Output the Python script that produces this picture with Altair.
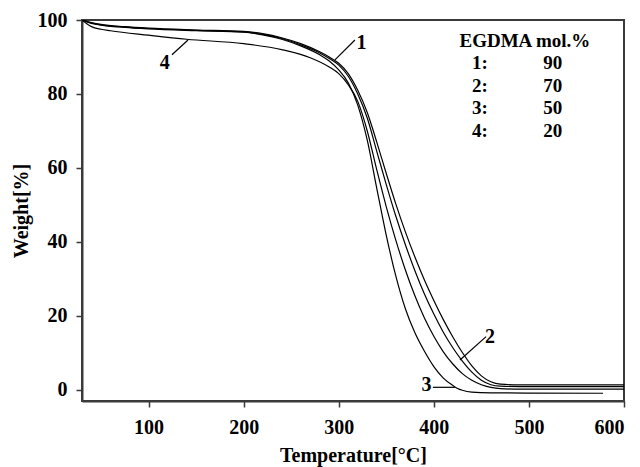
import altair as alt
import pandas as pd

# ---- data ----
series_names = ["1", "2", "3", "4"]

t1 = [30, 40, 50, 75, 100, 150, 200, 220, 240, 260, 280, 290, 300, 310, 320, 330, 340, 350,
      360, 370, 380, 390, 400, 410, 420, 430, 440, 450, 460, 470, 490, 600]
w1 = [100, 99.3, 98.8, 98.2, 97.8, 97.3, 96.9, 96.3, 95.2, 93.6, 91.4, 90.0, 88.3, 85.5, 81.0,
      75.0, 67.0, 58.5, 50.3, 42.8, 36.0, 29.8, 24.2, 19.0, 14.3, 10.1, 6.5, 3.8, 2.2, 1.55, 1.35, 1.35]

t2 = [30, 40, 50, 75, 100, 150, 200, 220, 240, 260, 280, 290, 300, 310, 320, 330, 340, 350,
      360, 370, 380, 390, 400, 410, 420, 430, 440, 450, 460, 470, 490, 600]
w2 = [100, 99.2, 98.7, 98.1, 97.7, 97.2, 96.8, 96.1, 95.0, 93.3, 91.1, 89.6, 87.8, 84.8, 80.0,
      73.5, 64.5, 55.5, 47.0, 39.3, 32.3, 26.0, 20.5, 15.6, 11.4, 7.8, 4.8, 2.6, 1.4, 1.0, 0.9, 0.9]

t3 = [30, 40, 50, 75, 100, 150, 200, 220, 240, 260, 280, 290, 300, 310, 320, 330, 340, 350,
      360, 370, 380, 390, 400, 410, 420, 425, 430, 440, 460, 500, 578]
w3 = [100, 99.1, 98.6, 98.0, 97.6, 97.1, 96.7, 96.0, 94.8, 93.0, 90.6, 88.9, 86.5, 83.0, 77.0,
      67.5, 54.5, 41.8, 30.8, 22.0, 15.5, 10.5, 6.3, 3.2, 1.2, 0.4, -0.1, -0.6, -0.8, -0.85, -0.9]

t4 = [30, 35, 40, 50, 60, 100, 140, 200, 240, 270, 290, 300, 310, 320, 330, 340, 350, 360,
      370, 380, 390, 400, 410, 420, 430, 440, 450, 460, 470, 490, 600]
w4 = [100, 99.0, 98.2, 97.5, 97.1, 95.9, 94.8, 93.6, 92.0, 89.8, 87.3, 85.5, 82.5, 78.0, 70.0,
      59.5, 49.5, 40.5, 32.5, 25.5, 19.5, 14.5, 10.3, 7.0, 4.4, 2.6, 1.4, 0.7, 0.35, 0.2, 0.2]

# curve labels and leader lines (data coordinates)
label_text = ["1", "2", "3", "4"]
label_x = [324, 459, 392.4, 116.9]
label_y = [93.7, 14.4, 1.45, 88.5]
leader_x = [296, 427.5, 399, 141.5]
leader_y = [89.2, 8.1, 0.7, 94.6]
leader_x2 = [317, 455, 422, 124.6]
leader_y2 = [94.6, 14.4, 0.7, 90.6]

# legend text block
legend_title = "EGDMA mol.%"
legend_keys = ["1:", "2:", "3:", "4:"]
legend_values = ["90", "70", "50", "20"]

# ---- build tables ----
rows = []
for name, ts, ws in zip(series_names, [t1, t2, t3, t4], [w1, w2, w3, w4]):
    for i, (t, w) in enumerate(zip(ts, ws)):
        rows.append({"series": name, "T": t, "W": w, "order": i})
curves = pd.DataFrame(rows)

labels_df = pd.DataFrame({"text": label_text, "x": label_x, "y": label_y})
leaders_df = pd.DataFrame({"x": leader_x, "y": leader_y, "x2": leader_x2, "y2": leader_y2})

leg_rows = [{"text": legend_title, "x": 495.8, "y": 94.4}]
leg_y = [88.3, 82.1, 76.2, 70.0]
for k, v, yy in zip(legend_keys, legend_values, leg_y):
    leg_rows.append({"text": k, "x": 448.5, "y": yy})
    leg_rows.append({"text": v, "x": 525, "y": yy})
legend_df = pd.DataFrame(leg_rows)

FONT = "Liberation Serif"

xscale = alt.Scale(domain=[30, 600], nice=False, zero=False)
yscale = alt.Scale(domain=[-3, 100], nice=False, zero=False)

common = dict(grid=False, tickSize=6,
              labelFont=FONT, labelFontSize=20, labelFontWeight="bold", labelColor="black",
              titleFont=FONT, titleFontSize=20, titleFontWeight="bold", titleColor="black",
              domainColor="#3a3a3a", domainWidth=2, tickColor="#3a3a3a", tickWidth=1.5)

xaxis = alt.Axis(values=[100, 200, 300, 400, 500, 600], title="Temperature[°C]",
                 labelPadding=10, titlePadding=8, **common)
yaxis = alt.Axis(values=[0, 20, 40, 60, 80, 100], title="Weight[%]",
                 labelPadding=9, titlePadding=6, **common)

lines = alt.Chart(curves).mark_line(color="black", strokeWidth=1.2, clip=True,
                                    interpolate="monotone").encode(
    x=alt.X("T:Q", scale=xscale, axis=xaxis),
    y=alt.Y("W:Q", scale=yscale, axis=yaxis),
    detail="series:N",
    order="order:Q",
)

leaders = alt.Chart(leaders_df).mark_rule(color="black", strokeWidth=1.2).encode(
    x="x:Q", y="y:Q", x2="x2:Q", y2="y2:Q"
)

labels = alt.Chart(labels_df).mark_text(
    font=FONT, fontSize=20, fontWeight="bold", color="black",
    align="center", baseline="middle"
).encode(x="x:Q", y="y:Q", text="text:N")

legend_text = alt.Chart(legend_df).mark_text(
    font=FONT, fontSize=19, fontWeight="bold", color="black",
    align="center", baseline="middle"
).encode(x="x:Q", y="y:Q", text="text:N")

chart = alt.layer(lines, leaders, labels, legend_text).properties(
    width=542, height=381,
    background="white",
    autosize=alt.AutoSizeParams(type="none"),
    padding={"left": 82, "top": 20, "right": 16, "bottom": 66},
).configure_view(
    stroke="#3a3a3a", strokeWidth=2
)

chart.save("out.html", embed_options={"renderer": "svg", "actions": False})
